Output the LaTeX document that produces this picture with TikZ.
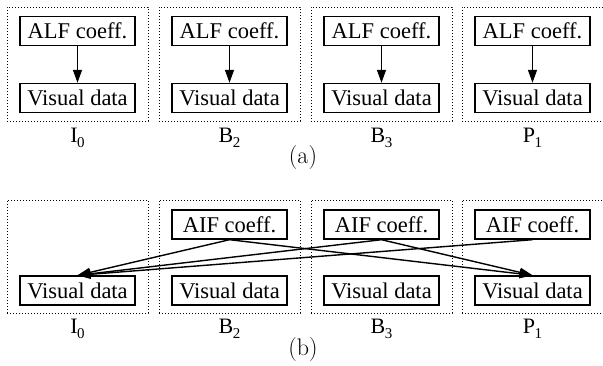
\documentclass[tikz,border=0pt]{standalone}
\usepackage{fontspec}
\setmainfont{Liberation Serif}
\newfontfamily\lmr{Latin Modern Roman}
\usetikzlibrary{arrows.meta,calc}
\begin{document}
\begin{tikzpicture}[x=1pt,y=-1pt,
  frame/.style={draw, dotted, line width=1pt, minimum width=141pt, inner sep=0pt},
  box/.style={draw, line width=1.4pt, minimum width=115pt, minimum height=29pt, inner sep=0pt, font=\fontsize{22.5}{24}\selectfont},
  lbl/.style={font=\fontsize{22}{24}\selectfont},
  captext/.style={font=\lmr\fontsize{24}{26}\selectfont},
  arr/.style={line width=1.4pt, -{Triangle[length=13pt,width=9pt]}}]
\useasboundingbox (0,0) rectangle (603,365);
\newcommand{\sub}[2]{#1\kern-0.5pt\raisebox{-0.22em}{\fontsize{15}{15}\selectfont #2}}
\foreach \i/\x/\l in {1/77.5/\sub{I}{0},2/229.5/\sub{B}{2},3/381.5/\sub{B}{3},4/532.5/\sub{P}{1}}{
  % panel (a)
  \node[frame, minimum height=114pt] (fa\i) at (\x,64) {};
  \node[box] (ca\i) at (\x,31) {ALF coeff.};
  \node[box] (va\i) at (\x,98) {Visual data};
  \draw[arr] (ca\i) -- (va\i);
  \node[lbl] (la\i) at (\x,138) {\l};
  % panel (b)
  \node[frame, minimum height=113pt] (fb\i) at (\x,256.5) {};
  \node[box] (vb\i) at (\x,290.5) {Visual data};
  \node[lbl] (lb\i) at (\x,329) {\l};
}
\foreach \i/\x in {2/229.5,3/381.5,4/532.5}{
  \node[box] (cb\i) at (\x,224.5) {AIF coeff.};
}
\node[captext] (capa) at (303,158) {(a)};
\node[captext] (capb) at (303,350) {(b)};
% arrows (b)
\draw[arr] (cb2.south) -- (vb1.north);
\draw[arr] (cb3.south) -- (vb1.north);
\draw[arr] (cb4.south) -- (vb1.north);
\draw[arr] (cb2.south) -- (vb4.north);
\draw[arr] (cb3.south) -- (vb4.north);
\end{tikzpicture}
\end{document}
